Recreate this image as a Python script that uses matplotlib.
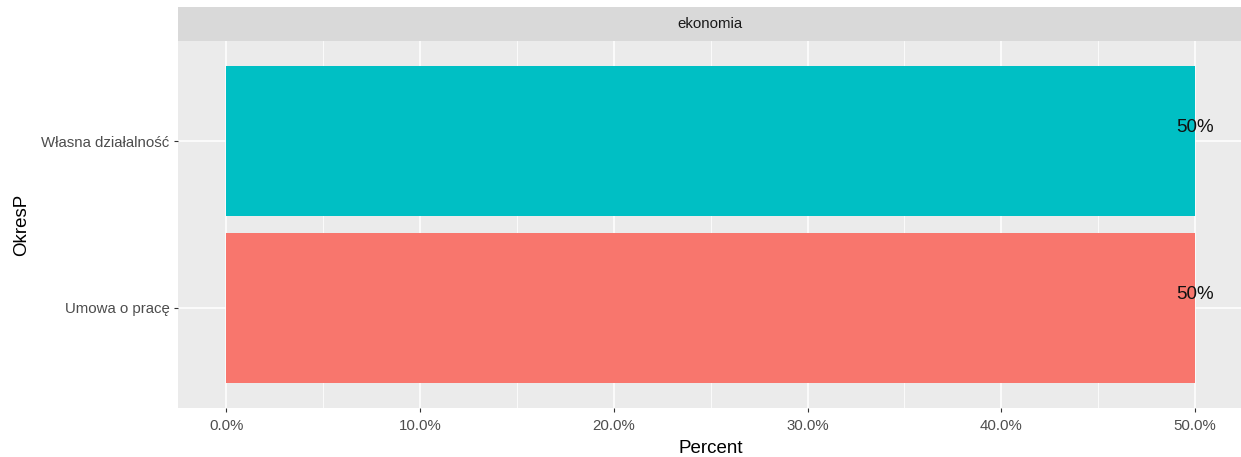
import matplotlib
matplotlib.use("Agg")
import matplotlib.pyplot as plt
import numpy as np

plt.rcParams['font.family'] = ['Liberation Sans', 'DejaVu Sans']

categories = ['Umowa o pracę', 'Własna działalność']
percents = [50.0, 50.0]
colors = ['#F8766D', '#00BFC4']
labels = ['50%', '50%']
facet = 'ekonomia'
xticks = [0, 10, 20, 30, 40, 50]
xticklabels = ['0.0%', '10.0%', '20.0%', '30.0%', '40.0%', '50.0%']

W, H = 1241, 457
fig = plt.figure(figsize=(W / 100, H / 100), dpi=100)

# panel and strip in pixel coords
px_l, px_r, py_t, py_b = 178, 1243.5, 41, 408
ax = fig.add_axes([px_l / W, 1 - py_b / H, (px_r - px_l) / W, (py_b - py_t) / H])
strip = fig.add_axes([px_l / W, 1 - py_t / H, (px_r - px_l) / W, (py_t - 7) / H])

ax.set_facecolor('#EBEBEB')
for s in ax.spines.values():
    s.set_visible(False)

y = np.arange(1, len(categories) + 1)
ax.barh(y, percents, height=0.9, color=colors, zorder=3)
for yi, v, t in zip(y, percents, labels):
    ax.text(v, yi + 0.08, t, ha='center', va='center', fontsize=13.5, color='#111111', zorder=4)

ax.set_xlim(-2.5, 52.5)
ax.set_ylim(0.4, len(categories) + 0.6)
ax.set_xticks(xticks)
ax.set_xticklabels(xticklabels)
ax.set_xticks([5, 15, 25, 35, 45], minor=True)
ax.set_yticks(y)
ax.set_yticklabels(categories)
ax.grid(which='major', color='white', linewidth=1.1, zorder=0)
ax.grid(which='minor', axis='x', color='white', linewidth=0.55, zorder=0)
ax.set_axisbelow(True)
ax.tick_params(which='major', length=3, width=0.8, color='#333333', labelcolor='#4D4D4D',
               labelsize=10.8, pad=3)
ax.tick_params(axis='x', which='major', pad=5)
ax.tick_params(which='minor', length=0)
ax.set_xlabel('Percent', fontsize=13.5, color='black', labelpad=5)
ax.set_ylabel('OkresP', fontsize=13.5, color='black', labelpad=8)

strip.set_facecolor('#D9D9D9')
strip.set_xticks([])
strip.set_yticks([])
for s in strip.spines.values():
    s.set_visible(False)
strip.text(0.5 * (1241 - px_l) / (px_r - px_l), 0.5, facet, ha='center', va='center',
           fontsize=10.8, color='#1A1A1A', transform=strip.transAxes)

fig.savefig('out.png', dpi=100)
